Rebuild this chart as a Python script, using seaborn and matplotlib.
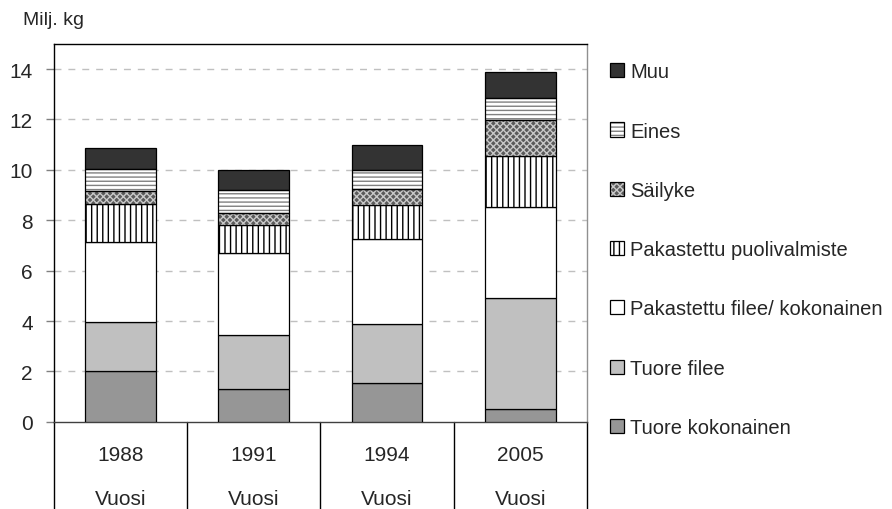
import matplotlib
matplotlib.use('Agg')
import matplotlib.pyplot as plt
from matplotlib.patches import Patch, Rectangle
from matplotlib.transforms import blended_transform_factory
import seaborn as sns

# data (Milj. kg)
years = ['1988', '1991', '1994', '2005']
tuore_kokonainen = [2.00, 1.30, 1.53, 0.49]
tuore_filee = [1.98, 2.13, 2.35, 4.42]
pak_filee = [3.15, 3.25, 3.36, 3.60]
pak_puol = [1.53, 1.14, 1.37, 2.05]
sailyke = [0.51, 0.46, 0.62, 1.42]
eines = [0.87, 0.91, 0.76, 0.86]
muu = [0.81, 0.81, 0.98, 1.04]

series_names = ['Tuore kokonainen', 'Tuore filee', 'Pakastettu filee/ kokonainen',
                'Pakastettu puolivalmiste', 'Säilyke', 'Eines', 'Muu']
series_values = [tuore_kokonainen, tuore_filee, pak_filee, pak_puol, sailyke, eines, muu]

# fill colour, hatch, hatch colour
styles = [
    ('#969696', None, None),
    ('#c0c0c0', None, None),
    ('#ffffff', None, None),
    ('#ffffff', '|||', 'black'),
    ('#5a5a5a', 'xxxxx', '#c8c8c8'),
    ('#ffffff', '----', '#808080'),
    ('#333333', None, None),
]

sns.set_theme(style='white')
plt.rcParams['font.family'] = ['Liberation Sans', 'DejaVu Sans']
plt.rcParams['hatch.linewidth'] = 1.0

fig = plt.figure(figsize=(8.92, 5.10), dpi=100)
ax = fig.add_axes([0.06, 0.171, 0.598, 0.741])

bottom = [0.0] * len(years)
handles = []
for name, vals, (fc, hatch, hc) in zip(series_names, series_values, styles):
    n0 = len(ax.patches)
    sns.barplot(x=years, y=vals, bottom=bottom, color=fc, saturation=1,
                width=0.53, edgecolor='black', linewidth=0.9, hatch=hatch,
                ax=ax, zorder=3)
    new = ax.patches[n0:]
    if hc is not None and hc != 'black':
        for p in new:
            p.set_edgecolor(hc)
            p.set_linewidth(0)
            ax.add_patch(Rectangle(p.get_xy(), p.get_width(), p.get_height(),
                                   fill=False, edgecolor='black', linewidth=0.9, zorder=4))
        h = (Patch(facecolor=fc, hatch=hatch, edgecolor=hc, linewidth=0),
             Patch(facecolor='none', edgecolor='black', linewidth=0.9))
    else:
        h = Patch(facecolor=fc, hatch=hatch, edgecolor='black', linewidth=0.9)
    handles.append(h)
    bottom = [b + v for b, v in zip(bottom, vals)]

ax.set_ylim(0, 15)
ax.set_xlim(-0.5, 3.5)
ax.set_yticks(range(0, 15, 2))
ax.tick_params(axis='y', left=True, length=6, width=1, color='#808080',
               pad=9, labelsize=15)
ax.tick_params(axis='x', bottom=False, labelbottom=False)
ax.set_xlabel('')
ax.set_ylabel('')
for y in range(2, 15, 2):
    ax.axhline(y, color='#c0c0c0', linestyle=(0, (5, 5)), linewidth=1, zorder=1)

for s in ['top', 'left']:
    ax.spines[s].set_color('black')
    ax.spines[s].set_linewidth(1)
ax.spines['right'].set_color('#909090')
ax.spines['right'].set_linewidth(1)
ax.spines['bottom'].set_color('#404040')
ax.spines['bottom'].set_linewidth(1)

# category area below the axis
tr = blended_transform_factory(ax.transData, fig.transFigure)
for xd in [-0.5, 0.5, 1.5, 2.5, 3.5]:
    ax.plot([xd, xd], [0.171, 0.0], transform=tr, color='black', linewidth=1,
            clip_on=False)
for i, yr in enumerate(years):
    ax.text(i, 0.106, yr, transform=tr, ha='center', va='center', fontsize=15)
    ax.text(i, 0.02, 'Vuosi', transform=tr, ha='center', va='center', fontsize=15)

fig.text(0.026, 0.96, 'Milj. kg', ha='left', va='center', fontsize=14)

fig.legend(handles[::-1], series_names[::-1], loc='upper left',
           bbox_to_anchor=(0.684, 0.876), frameon=False, fontsize=14.5,
           handlelength=0.7, handleheight=0.7, handletextpad=0.3,
           labelspacing=2.0, borderpad=0, borderaxespad=0)

fig.savefig('out.png', dpi=100)
